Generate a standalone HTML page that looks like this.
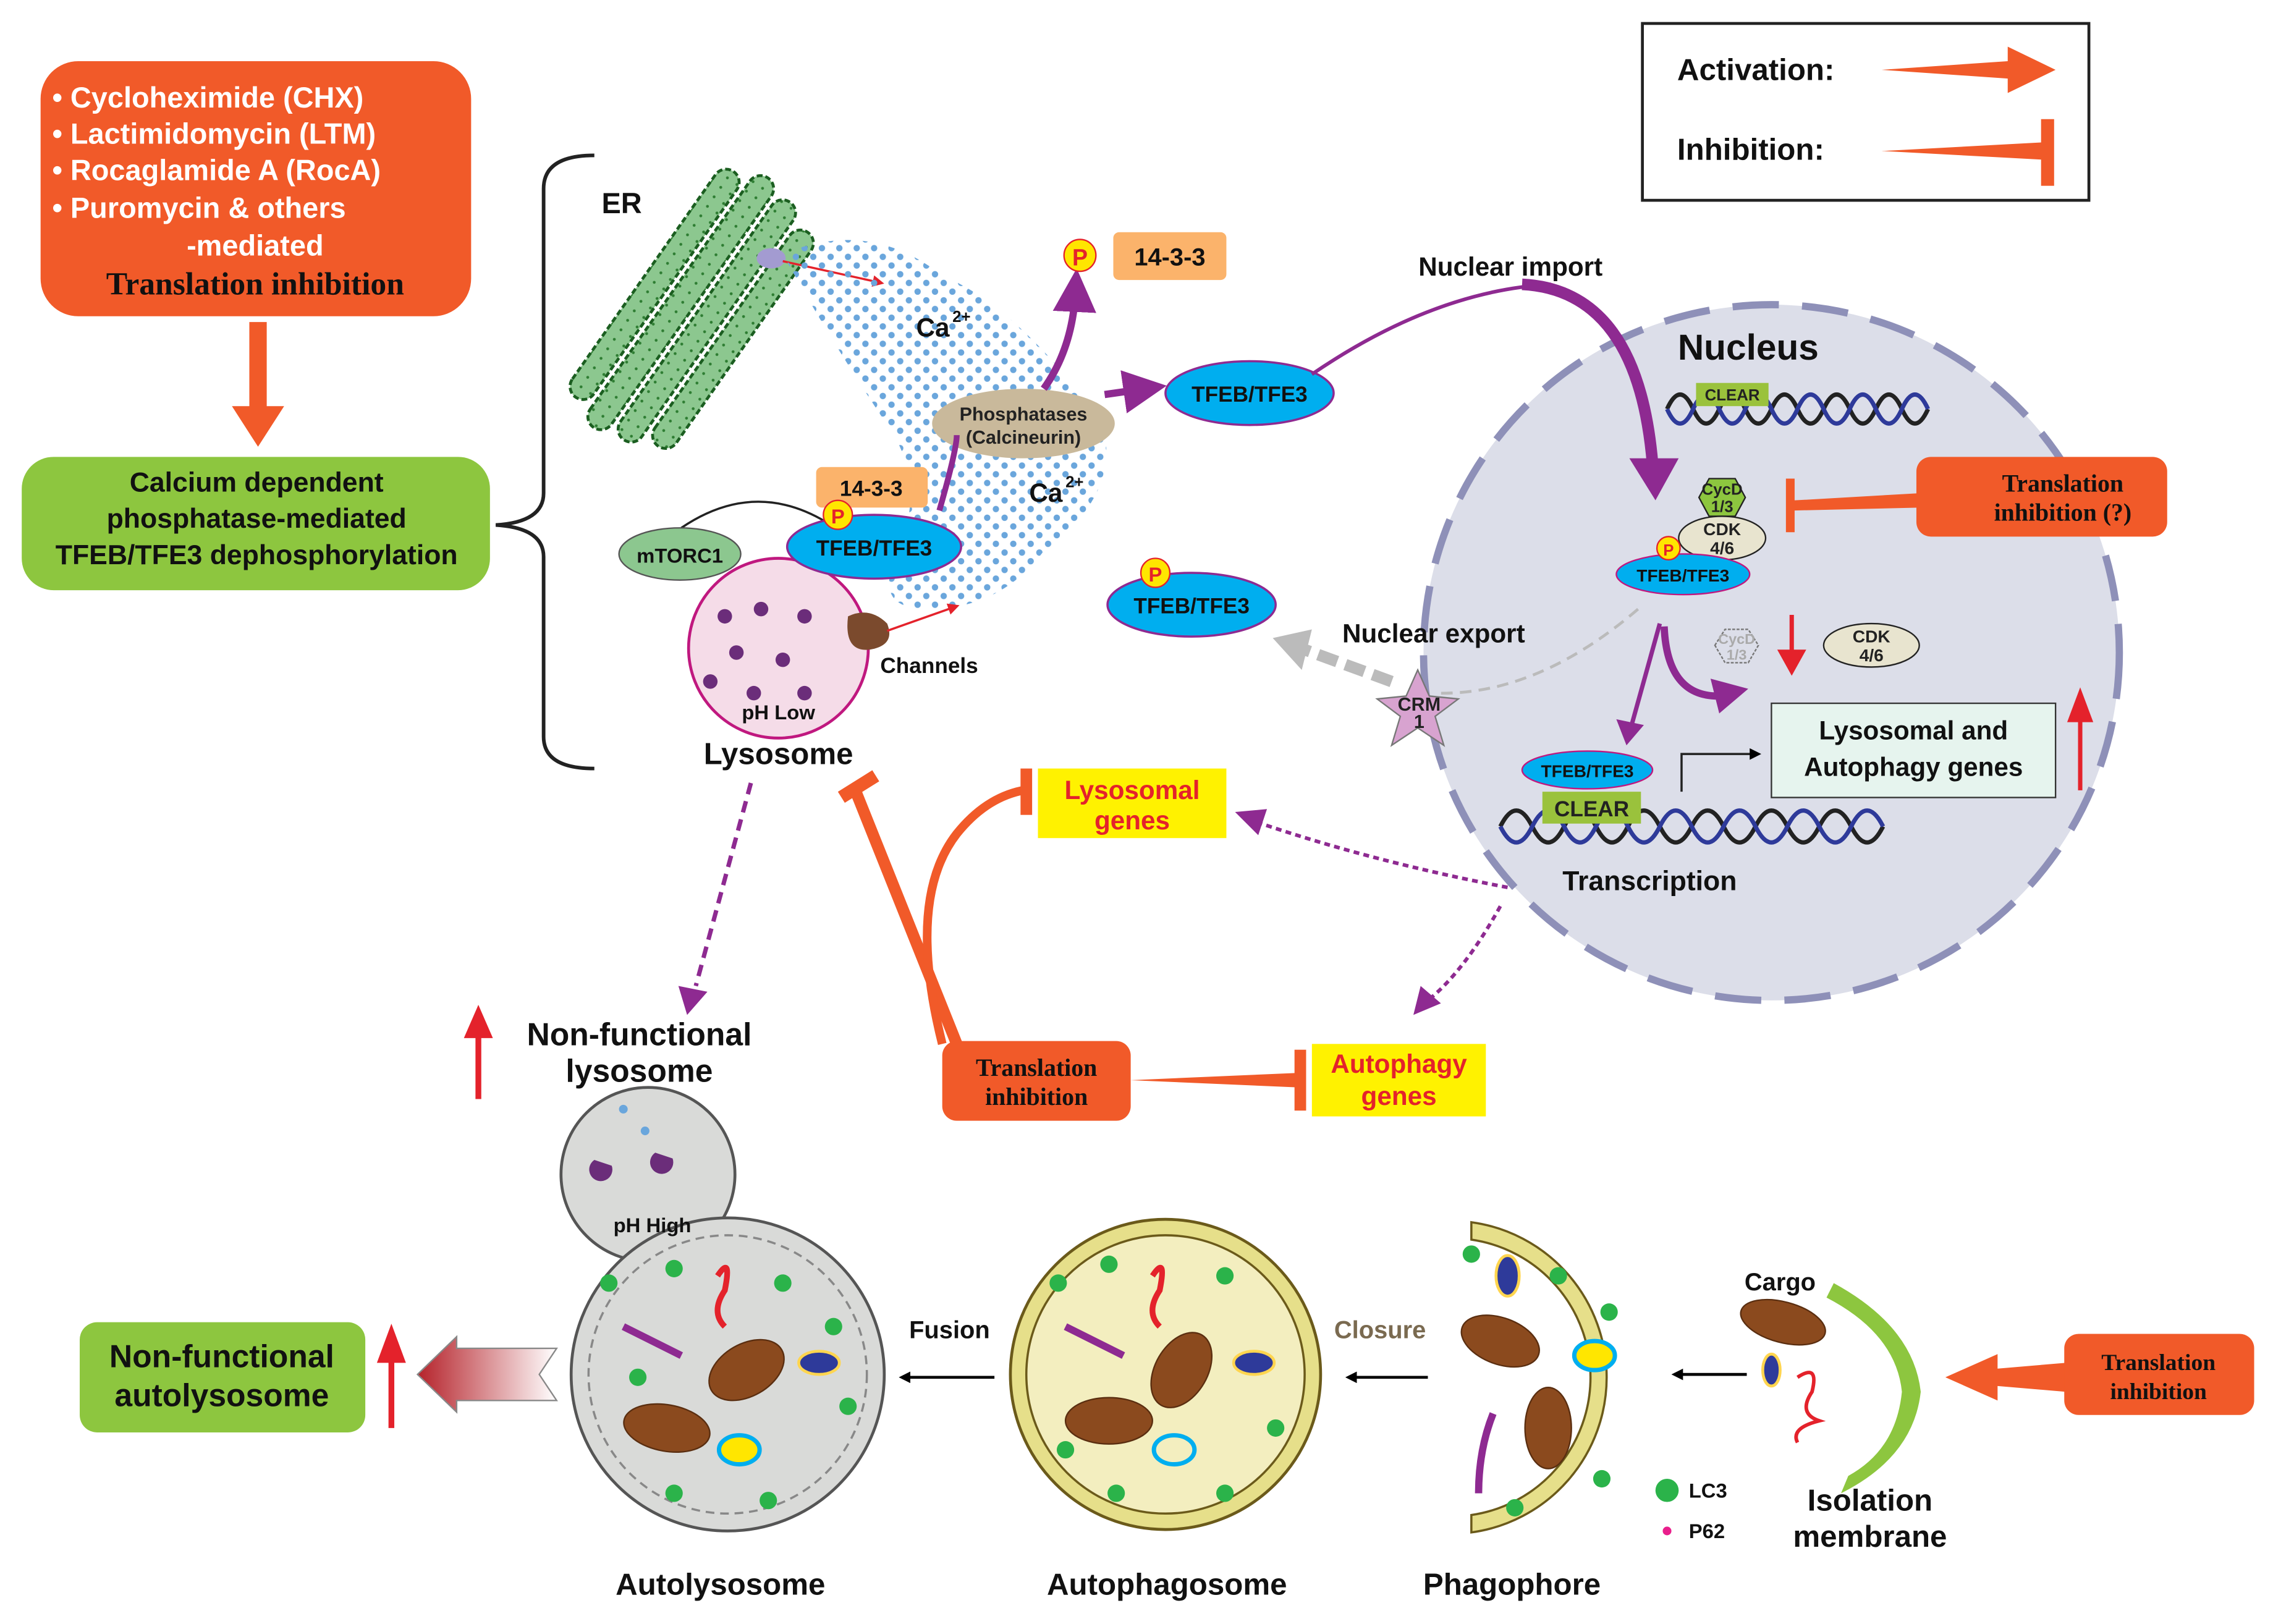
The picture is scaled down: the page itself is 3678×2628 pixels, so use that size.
<!DOCTYPE html>
<html><head><meta charset="utf-8"><style>
html,body{margin:0;padding:0;background:#fff}
svg{display:block}
text{font-family:"Liberation Sans",sans-serif;font-weight:bold}
.s{font-family:"Liberation Serif",serif;font-weight:bold}
</style></head><body>
<svg width="3678" height="2628" viewBox="0 0 1568 1120" xmlns="http://www.w3.org/2000/svg">
<defs>
<pattern id="dots" width="12" height="12" patternUnits="userSpaceOnUse">
<circle cx="3" cy="3" r="2.2" fill="#6aa6dc"/><circle cx="9" cy="9" r="2.2" fill="#6aa6dc"/>
</pattern>
<pattern id="erp" width="8" height="8" patternUnits="userSpaceOnUse">
<rect width="8" height="8" fill="#8cc78f"/><circle cx="4" cy="4" r="1" fill="#2e7d32"/>
</pattern>
<marker id="ap" markerWidth="6" markerHeight="6" refX="3" refY="3" orient="auto" markerUnits="strokeWidth"><path d="M0,0L6,3L0,6z" fill="#8e2a91"/></marker>
<marker id="ak" markerWidth="8" markerHeight="8" refX="6" refY="4" orient="auto" markerUnits="userSpaceOnUse"><path d="M0,0L8,4L0,8z" fill="#000"/></marker>
<marker id="ar" markerWidth="8" markerHeight="8" refX="6" refY="4" orient="auto" markerUnits="userSpaceOnUse"><path d="M0,0L8,4L0,8z" fill="#e4222b"/></marker>
<linearGradient id="grad" x1="0" x2="1"><stop offset="0" stop-color="#b5222a"/><stop offset="1" stop-color="#fff"/></linearGradient>
</defs>

<!-- top-left orange box -->
<rect x="28" y="42" width="297" height="176" rx="26" fill="#f15a29"/>
<g fill="#fff" font-size="20">
<text x="36" y="74">• Cycloheximide (CHX)</text>
<text x="36" y="99">• Lactimidomycin (LTM)</text>
<text x="36" y="124">• Rocaglamide A (RocA)</text>
<text x="36" y="150">• Puromycin &amp; others</text>
<text x="176" y="176" text-anchor="middle">-mediated</text>
</g>
<text x="176" y="203" class="s" font-size="22" text-anchor="middle" fill="#111">Translation inhibition</text>
<path d="M172,222 L184,222 L184,280 L196,280 L178,308 L160,280 L172,280z" fill="#f15a29"/>

<rect x="15" y="315" width="323" height="92" rx="22" fill="#8dc63f"/>
<g font-size="19" fill="#111" text-anchor="middle">
<text x="177" y="339">Calcium dependent</text>
<text x="177" y="364">phosphatase-mediated</text>
<text x="177" y="389">TFEB/TFE3 dephosphorylation</text>
</g>
<path d="M410,107 Q375,107 375,130 L375,340 Q375,360 342,362 Q375,364 375,384 L375,508 Q375,530 410,530" fill="none" stroke="#222" stroke-width="2.5"/>

<!-- ER -->
<g transform="rotate(-55 470 215)" stroke="#1b5e20" stroke-width="2" stroke-dasharray="4 2">
<rect x="380" y="180" width="190" height="18" rx="9" fill="url(#erp)"/>
<rect x="370" y="202" width="210" height="18" rx="9" fill="url(#erp)"/>
<rect x="375" y="224" width="200" height="18" rx="9" fill="url(#erp)"/>
<rect x="385" y="246" width="180" height="18" rx="9" fill="url(#erp)"/>
</g>
<text x="415" y="147" font-size="20" fill="#111">ER</text>
<ellipse cx="532" cy="178" rx="10" ry="7" fill="#a39bd1"/>
<line x1="540" y1="180" x2="608" y2="195" stroke="#e4222b" stroke-width="1.5" marker-end="url(#ar)"/>

<path d="M540,175 Q600,150 650,190 Q700,210 760,290 Q775,340 720,380 Q690,420 640,420 Q600,420 620,380 Q640,330 610,290 Q570,230 540,175z" fill="url(#dots)"/>
<text x="632" y="232" font-size="18" fill="#111">Ca</text><text x="657" y="222" font-size="11" fill="#111">2+</text>
<text x="710" y="346" font-size="18" fill="#111">Ca</text><text x="735" y="336" font-size="11" fill="#111">2+</text>

<ellipse cx="706" cy="292" rx="63" ry="24" fill="#c9b99b"/>
<text x="706" y="290" font-size="13" text-anchor="middle" fill="#222">Phosphatases</text>
<text x="706" y="306" font-size="13" text-anchor="middle" fill="#222">(Calcineurin)</text>

<path d="M720,268 Q740,240 742,200" fill="none" stroke="#8e2a91" stroke-width="5" marker-end="url(#ap)"/>
<path d="M762,272 L790,268" fill="none" stroke="#8e2a91" stroke-width="5" marker-end="url(#ap)"/>
<path d="M648,352 Q660,310 660,300" fill="none" stroke="#8e2a91" stroke-width="4"/>

<circle cx="745" cy="176" r="11" fill="#ffe600" stroke="#e4222b"/><text x="745" y="183" font-size="16" fill="#e4222b" text-anchor="middle">P</text>
<rect x="768" y="160" width="78" height="33" rx="4" fill="#fbb36b"/><text x="807" y="183" font-size="17" text-anchor="middle" fill="#111">14-3-3</text>

<ellipse cx="862" cy="271" rx="58" ry="22" fill="#00aeef" stroke="#8e2a91" stroke-width="1.5"/>
<text x="862" y="277" font-size="15" text-anchor="middle" fill="#111">TFEB/TFE3</text>
<text x="1042" y="190" font-size="18" text-anchor="middle" fill="#111">Nuclear import</text>

<path d="M470,364 Q520,330 570,360" fill="none" stroke="#222" stroke-width="1.5"/>
<ellipse cx="469" cy="382" rx="42" ry="18" fill="#8cc78f" stroke="#555"/>
<text x="469" y="388" font-size="14" text-anchor="middle" fill="#111">mTORC1</text>
<rect x="563" y="322" width="77" height="28" rx="4" fill="#fbb36b"/><text x="601" y="342" font-size="15" text-anchor="middle" fill="#111">14-3-3</text>
<circle cx="537" cy="447" r="62" fill="#f5dce8" stroke="#c0187f" stroke-width="2"/>
<ellipse cx="603" cy="377" rx="60" ry="22" fill="#00aeef" stroke="#8e2a91" stroke-width="1.5"/>
<text x="603" y="383" font-size="15" text-anchor="middle" fill="#111">TFEB/TFE3</text>
<circle cx="578" cy="355" r="10" fill="#ffe600" stroke="#e4222b"/><text x="578" y="361" font-size="14" fill="#e4222b" text-anchor="middle">P</text>
<g fill="#6b2d7a">
<circle cx="500" cy="425" r="5"/><circle cx="525" cy="420" r="5"/><circle cx="555" cy="425" r="5"/><circle cx="508" cy="450" r="5"/><circle cx="540" cy="455" r="5"/><circle cx="520" cy="478" r="5"/><circle cx="555" cy="478" r="5"/><circle cx="490" cy="470" r="5"/>
</g>
<path d="M585,425 Q600,418 612,430 Q618,445 600,448 Q582,450 585,425z" fill="#7b4a2d"/>
<line x1="612" y1="435" x2="660" y2="418" stroke="#e4222b" stroke-width="1.5" marker-end="url(#ar)"/>
<text x="641" y="464" font-size="15" text-anchor="middle" fill="#111">Channels</text>
<text x="537" y="496" font-size="14" text-anchor="middle" fill="#111">pH Low</text>
<text x="537" y="527" font-size="21" text-anchor="middle" fill="#111">Lysosome</text>

<ellipse cx="822" cy="417" rx="58" ry="22" fill="#00aeef" stroke="#8e2a91" stroke-width="1.5"/>
<text x="822" y="423" font-size="15" text-anchor="middle" fill="#111">TFEB/TFE3</text>
<circle cx="797" cy="395" r="10" fill="#ffe600" stroke="#e4222b"/><text x="797" y="401" font-size="14" fill="#e4222b" text-anchor="middle">P</text>

<rect x="1133" y="16" width="308" height="122" fill="#fff" stroke="#222" stroke-width="2"/>
<text x="1157" y="55" font-size="21" fill="#111">Activation:</text>
<path d="M1298,48 L1385,42 L1385,32 L1418,48 L1385,64 L1385,54z" fill="#f15a29"/>
<text x="1157" y="110" font-size="21" fill="#111">Inhibition:</text>
<path d="M1298,104 L1410,98 L1410,110z" fill="#f15a29"/><rect x="1408" y="82" width="9" height="46" fill="#f15a29"/>

<!-- nucleus -->
<circle cx="1222" cy="450" r="240" fill="#dcdee9" stroke="#8e90b8" stroke-width="5" stroke-dasharray="32 16"/>
<text x="1206" y="248" font-size="25" text-anchor="middle" fill="#111">Nucleus</text>

<!-- nuclear import arrow (on top of nucleus) -->
<path d="M905,258 Q990,200 1070,196" fill="none" stroke="#8e2a91" stroke-width="2.5"/>
<path d="M1050,196 Q1130,200 1140,320" fill="none" stroke="#8e2a91" stroke-width="8"/>
<path d="M1124,316 L1158,316 L1142,345z" fill="#8e2a91"/>

<path d="M1150,282 q9,-20 18,0 t18,0 t18,0 t18,0 t18,0 t18,0 t18,0 t18,0 t18,0 t18,0" fill="none" stroke="#222" stroke-width="3"/>
<path d="M1150,282 q9,20 18,0 t18,0 t18,0 t18,0 t18,0 t18,0 t18,0 t18,0 t18,0 t18,0" fill="none" stroke="#2e3a9a" stroke-width="3"/>
<rect x="1170" y="264" width="50" height="16" fill="#9ac23c"/><text x="1195" y="276" font-size="11" text-anchor="middle" fill="#222">CLEAR</text>

<path d="M1172,343 L1179,330 L1197,330 L1204,343 L1197,356 L1179,356z" fill="#8dc63f" stroke="#222"/>
<text x="1188" y="341" font-size="11" text-anchor="middle" fill="#222">CycD</text><text x="1188" y="353" font-size="11" text-anchor="middle" fill="#222">1/3</text>
<ellipse cx="1188" cy="371" rx="30" ry="15" fill="#e8e4cf" stroke="#222"/>
<text x="1188" y="369" font-size="12" text-anchor="middle" fill="#222">CDK</text><text x="1188" y="382" font-size="12" text-anchor="middle" fill="#222">4/6</text>
<ellipse cx="1161" cy="396" rx="46" ry="14" fill="#00aeef" stroke="#c0187f"/>
<text x="1161" y="401" font-size="12" text-anchor="middle" fill="#111">TFEB/TFE3</text>
<circle cx="1151" cy="378" r="8" fill="#ffe600" stroke="#e4222b"/><text x="1151" y="383" font-size="11" fill="#e4222b" text-anchor="middle">P</text>
<path d="M1232,330 L1238,330 L1238,345 L1325,340 L1325,350 L1238,352 L1238,367 L1232,367z" fill="#f15a29"/>
<rect x="1322" y="315" width="173" height="55" rx="10" fill="#f15a29"/>
<text x="1423" y="339" class="s" font-size="17" text-anchor="middle" fill="#111">Translation</text>
<text x="1423" y="359" class="s" font-size="17" text-anchor="middle" fill="#111">inhibition (?)</text>

<path d="M1183,445 L1190,434 L1206,434 L1213,445 L1206,457 L1190,457z" fill="none" stroke="#777" stroke-dasharray="2 1"/>
<text x="1198" y="444" font-size="10" text-anchor="middle" fill="#aaa">CycD</text><text x="1198" y="455" font-size="10" text-anchor="middle" fill="#aaa">1/3</text>
<path d="M1236,424 L1236,452" stroke="#e4222b" stroke-width="3"/><path d="M1226,448 L1246,448 L1236,466z" fill="#e4222b"/>
<ellipse cx="1291" cy="445" rx="33" ry="15" fill="#e8e4cf" stroke="#222"/>
<text x="1291" y="443" font-size="12" text-anchor="middle" fill="#222">CDK</text><text x="1291" y="456" font-size="12" text-anchor="middle" fill="#222">4/6</text>

<path d="M1130,420 Q1060,480 990,478" fill="none" stroke="#bbb" stroke-width="2" stroke-dasharray="8 5"/>
<path d="M960,470 L900,448" stroke="#bbb" stroke-width="8" stroke-dasharray="14 6"/>
<path d="M878,440 L905,434 L898,462z" fill="#bbb"/>
<text x="989" y="443" font-size="18" text-anchor="middle" fill="#111">Nuclear export</text>
<path d="M978,462 L986,480 L1006,482 L990,494 L996,514 L978,502 L960,514 L966,494 L950,482 L970,480z" fill="#d8a3d0" stroke="#777"/>
<text x="979" y="490" font-size="13" text-anchor="middle" fill="#222">CRM</text><text x="979" y="502" font-size="13" text-anchor="middle" fill="#222">1</text>

<path d="M1145,430 L1125,502" stroke="#8e2a91" stroke-width="3"/><path d="M1115,496 L1134,500 L1122,514z" fill="#8e2a91"/>
<path d="M1148,432 Q1150,480 1185,480" fill="none" stroke="#8e2a91" stroke-width="5"/><path d="M1180,468 L1206,475 L1186,492z" fill="#8e2a91"/>
<rect x="1222" y="485" width="196" height="65" fill="#e6f4ee" stroke="#333"/>
<text x="1320" y="510" font-size="18" text-anchor="middle" fill="#111">Lysosomal and</text>
<text x="1320" y="535" font-size="18" text-anchor="middle" fill="#111">Autophagy genes</text>
<path d="M1435,545 L1435,495" stroke="#e4222b" stroke-width="3"/><path d="M1426,498 L1444,498 L1435,474z" fill="#e4222b"/>

<path d="M1035,570 q11,-22 22,0 t22,0 t22,0 t22,0 t22,0 t22,0 t22,0 t22,0 t22,0 t22,0 t22,0 t22,0" fill="none" stroke="#222" stroke-width="3"/>
<path d="M1035,570 q11,22 22,0 t22,0 t22,0 t22,0 t22,0 t22,0 t22,0 t22,0 t22,0 t22,0 t22,0 t22,0" fill="none" stroke="#2e3a9a" stroke-width="3"/>
<ellipse cx="1095" cy="531" rx="45" ry="13" fill="#00aeef" stroke="#c0187f"/>
<text x="1095" y="536" font-size="12" text-anchor="middle" fill="#111">TFEB/TFE3</text>
<rect x="1064" y="546" width="68" height="22" fill="#9ac23c"/><text x="1098" y="563" font-size="15" text-anchor="middle" fill="#222">CLEAR</text>
<path d="M1160,546 L1160,520 L1213,520" fill="none" stroke="#222" stroke-width="1.5" marker-end="url(#ak)"/>
<text x="1138" y="614" font-size="19" text-anchor="middle" fill="#111">Transcription</text>

<path d="M1040,612 Q950,595 870,568" fill="none" stroke="#8e2a91" stroke-width="2.5" stroke-dasharray="4 3"/>
<path d="M852,560 L874,558 L868,576z" fill="#8e2a91"/>
<path d="M1035,625 Q1010,670 985,690" fill="none" stroke="#8e2a91" stroke-width="2.5" stroke-dasharray="4 3"/>
<path d="M975,700 L980,680 L994,692z" fill="#8e2a91"/>

<rect x="716" y="530" width="130" height="48" fill="#fff200"/>
<text x="781" y="551" font-size="18" text-anchor="middle" fill="#e4222b">Lysosomal</text>
<text x="781" y="572" font-size="18" text-anchor="middle" fill="#e4222b">genes</text>
<rect x="905" y="720" width="120" height="50" fill="#fff200"/>
<text x="965" y="740" font-size="18" text-anchor="middle" fill="#e4222b">Autophagy</text>
<text x="965" y="762" font-size="18" text-anchor="middle" fill="#e4222b">genes</text>

<path d="M660,720 Q620,620 590,545" fill="none" stroke="#f15a29" stroke-width="8"/>
<rect x="578" y="538" width="28" height="9" transform="rotate(-32 592 542)" fill="#f15a29"/>
<path d="M650,720 Q625,620 660,575 Q680,550 706,545" fill="none" stroke="#f15a29" stroke-width="6"/>
<rect x="704" y="530" width="8" height="32" fill="#f15a29"/>
<path d="M780,745 L895,740 L895,750z" fill="#f15a29"/><rect x="893" y="724" width="8" height="42" fill="#f15a29"/>
<rect x="650" y="718" width="130" height="55" rx="10" fill="#f15a29"/>
<text x="715" y="742" class="s" font-size="17" text-anchor="middle" fill="#111">Translation</text>
<text x="715" y="762" class="s" font-size="17" text-anchor="middle" fill="#111">inhibition</text>

<path d="M518,540 L480,680" stroke="#8e2a91" stroke-width="3" stroke-dasharray="8 5"/>
<path d="M468,680 L488,684 L474,700z" fill="#8e2a91"/>
<path d="M330,758 L330,712" stroke="#e4222b" stroke-width="4"/><path d="M320,716 L340,716 L330,693z" fill="#e4222b"/>
<text x="441" y="721" font-size="22" text-anchor="middle" fill="#111">Non-functional</text>
<text x="441" y="746" font-size="22" text-anchor="middle" fill="#111">lysosome</text>

<circle cx="447" cy="810" r="60" fill="#d9dad8" stroke="#555" stroke-width="2"/>
<circle cx="502" cy="948" r="108" fill="#d9dad8" stroke="#555" stroke-width="2"/>
<circle cx="502" cy="948" r="96" fill="none" stroke="#888" stroke-width="1.5" stroke-dasharray="6 4"/>
<circle cx="430" cy="765" r="3" fill="#6aa6dc"/><circle cx="445" cy="780" r="3" fill="#6aa6dc"/>
<path d="M410,800 a8,8 0 1 0 12,4z" fill="#6b2d7a"/><path d="M452,795 a8,8 0 1 0 12,4z" fill="#6b2d7a"/>
<text x="450" y="850" font-size="14" text-anchor="middle" fill="#111">pH High</text>
<g>
<ellipse cx="515" cy="945" rx="28" ry="18" transform="rotate(-30 515 945)" fill="#8b4a1e" stroke="#5a2e10"/>
<ellipse cx="460" cy="985" rx="30" ry="16" transform="rotate(10 460 985)" fill="#8b4a1e" stroke="#5a2e10"/>
<ellipse cx="510" cy="1000" rx="14" ry="10" fill="#ffe600" stroke="#00aeef" stroke-width="3"/>
<ellipse cx="565" cy="940" rx="14" ry="8" fill="#2e3a9a" stroke="#ffd54f" stroke-width="2"/>
<path d="M430,915 Q450,925 470,935" stroke="#8e2a91" stroke-width="5" fill="none"/>
<path d="M495,880 q10,-15 5,10 q-10,15 0,25" stroke="#e4222b" stroke-width="4" fill="none"/>
<circle cx="420" cy="885" r="6" fill="#2bb34a"/><circle cx="465" cy="875" r="6" fill="#2bb34a"/><circle cx="540" cy="885" r="6" fill="#2bb34a"/><circle cx="440" cy="950" r="6" fill="#2bb34a"/><circle cx="585" cy="970" r="6" fill="#2bb34a"/><circle cx="465" cy="1030" r="6" fill="#2bb34a"/><circle cx="530" cy="1035" r="6" fill="#2bb34a"/><circle cx="575" cy="915" r="6" fill="#2bb34a"/>
</g>
<text x="497" y="1100" font-size="21" text-anchor="middle" fill="#111">Autolysosome</text>
<path d="M384,930 L315,930 L315,922 L288,948 L315,974 L315,966 L384,966 L372,948z" fill="url(#grad)" stroke="#888"/>
<path d="M270,985 L270,935" stroke="#e4222b" stroke-width="4"/><path d="M260,940 L280,940 L270,913z" fill="#e4222b"/>
<rect x="55" y="912" width="197" height="76" rx="12" fill="#8dc63f"/>
<text x="153" y="943" font-size="22" text-anchor="middle" fill="#111">Non-functional</text>
<text x="153" y="970" font-size="22" text-anchor="middle" fill="#111">autolysosome</text>

<line x1="686" y1="950" x2="622" y2="950" stroke="#000" stroke-width="2" marker-end="url(#ak)"/>
<text x="655" y="923" font-size="17" text-anchor="middle" fill="#111">Fusion</text>

<circle cx="804" cy="948" r="107" fill="#e6df8a" stroke="#6b5a1a" stroke-width="2"/>
<circle cx="804" cy="948" r="96" fill="#f3eebf" stroke="#6b5a1a" stroke-width="1.5"/>
<ellipse cx="815" cy="945" rx="28" ry="18" transform="rotate(-60 815 945)" fill="#8b4a1e" stroke="#5a2e10"/>
<ellipse cx="765" cy="980" rx="30" ry="16" fill="#8b4a1e" stroke="#5a2e10"/>
<ellipse cx="810" cy="1000" rx="14" ry="10" fill="#f3eebf" stroke="#00aeef" stroke-width="3"/>
<ellipse cx="865" cy="940" rx="14" ry="8" fill="#2e3a9a" stroke="#ffd54f" stroke-width="2"/>
<path d="M735,915 Q755,925 775,935" stroke="#8e2a91" stroke-width="5" fill="none"/>
<path d="M795,880 q10,-15 5,10 q-10,15 0,25" stroke="#e4222b" stroke-width="4" fill="none"/>
<circle cx="730" cy="885" r="6" fill="#2bb34a"/><circle cx="765" cy="872" r="6" fill="#2bb34a"/><circle cx="845" cy="880" r="6" fill="#2bb34a"/><circle cx="735" cy="1000" r="6" fill="#2bb34a"/><circle cx="880" cy="985" r="6" fill="#2bb34a"/><circle cx="770" cy="1030" r="6" fill="#2bb34a"/><circle cx="845" cy="1030" r="6" fill="#2bb34a"/>
<text x="805" y="1100" font-size="21" text-anchor="middle" fill="#111">Autophagosome</text>

<line x1="985" y1="950" x2="930" y2="950" stroke="#000" stroke-width="2" marker-end="url(#ak)"/>
<text x="952" y="923" font-size="17" text-anchor="middle" fill="#7a6a50">Closure</text>

<path d="M1015,843 A108,108 0 0 1 1015,1057 L1015,1045 A96,96 0 0 0 1015,855z" fill="#e6df8a" stroke="#6b5a1a" stroke-width="1.5"/>
<ellipse cx="1035" cy="925" rx="28" ry="16" transform="rotate(20 1035 925)" fill="#8b4a1e" stroke="#5a2e10"/>
<ellipse cx="1068" cy="985" rx="16" ry="28" fill="#8b4a1e" stroke="#5a2e10"/>
<ellipse cx="1040" cy="880" rx="8" ry="14" fill="#2e3a9a" stroke="#ffd54f" stroke-width="2"/>
<ellipse cx="1100" cy="935" rx="14" ry="10" fill="#ffe600" stroke="#00aeef" stroke-width="3"/>
<path d="M1030,975 Q1020,1000 1020,1030" stroke="#8e2a91" stroke-width="5" fill="none"/>
<circle cx="1015" cy="865" r="6" fill="#2bb34a"/><circle cx="1075" cy="880" r="6" fill="#2bb34a"/><circle cx="1110" cy="905" r="6" fill="#2bb34a"/><circle cx="1105" cy="1020" r="6" fill="#2bb34a"/><circle cx="1045" cy="1040" r="6" fill="#2bb34a"/>
<text x="1043" y="1100" font-size="21" text-anchor="middle" fill="#111">Phagophore</text>

<line x1="1205" y1="948" x2="1155" y2="948" stroke="#000" stroke-width="2" marker-end="url(#ak)"/>
<text x="1228" y="890" font-size="17" text-anchor="middle" fill="#111">Cargo</text>
<ellipse cx="1230" cy="912" rx="30" ry="14" transform="rotate(15 1230 912)" fill="#8b4a1e" stroke="#5a2e10"/>
<ellipse cx="1222" cy="945" rx="6" ry="11" fill="#2e3a9a" stroke="#ffd54f" stroke-width="2"/>
<path d="M1240,950 q15,-10 10,10 q-10,15 5,20 q-20,5 -15,15" stroke="#e4222b" stroke-width="2.5" fill="none"/>
<path d="M1265,885 Q1320,915 1325,960 Q1320,1005 1270,1030 L1275,1018 Q1308,1000 1312,960 Q1308,920 1260,895z" fill="#8dc63f"/>
<circle cx="1150" cy="1028" r="8" fill="#2bb34a"/><text x="1165" y="1033" font-size="14" fill="#111">LC3</text>
<circle cx="1150" cy="1056" r="3" fill="#e91e8c"/><text x="1165" y="1061" font-size="14" fill="#111">P62</text>
<text x="1290" y="1042" font-size="21" text-anchor="middle" fill="#111">Isolation</text>
<text x="1290" y="1067" font-size="21" text-anchor="middle" fill="#111">membrane</text>

<path d="M1425,940 L1378,944 L1378,934 L1342,950 L1378,966 L1378,956 L1425,960z" fill="#f15a29"/>
<rect x="1424" y="920" width="131" height="56" rx="10" fill="#f15a29"/>
<text x="1489" y="945" class="s" font-size="16" text-anchor="middle" fill="#111">Translation</text>
<text x="1489" y="965" class="s" font-size="16" text-anchor="middle" fill="#111">inhibition</text>
</svg>
</body></html>
